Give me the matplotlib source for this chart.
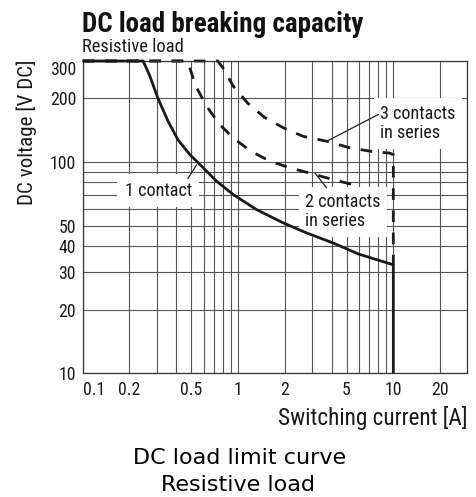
import matplotlib
matplotlib.use('Agg')
import matplotlib.pyplot as plt
from matplotlib import font_manager as fm
from matplotlib.ticker import FixedLocator, NullFormatter

# ---------------- data ----------------
cur_1 = [0.1, 0.245, 0.27, 0.305, 0.354, 0.411, 0.491, 0.598, 0.729, 0.933, 1.32, 1.96, 2.77, 4.11, 6.0, 10, 10]
volt_1 = [300, 300, 256, 200, 156, 127, 108, 93.7, 80.9, 70, 59.4, 51.4, 46.1, 41.3, 36.6, 32.6, 10]

cur_2 = [0.1, 0.464, 0.485, 0.535, 0.629, 0.757, 0.945, 1.225, 1.61, 2.16, 2.98, 4.11, 5.9]
volt_2 = [300, 300, 283.5, 228, 183, 151, 128.5, 111.7, 100.7, 93.7, 88, 82.4, 77]

cur_3 = [0.1, 0.74, 0.795, 0.933, 1.151, 1.475, 1.957, 2.63, 3.73, 5.26, 7.26, 9.52, 10, 10]
volt_3 = [300, 300, 280, 228, 190, 162.7, 145, 132, 125.2, 116.5, 112, 110, 108, 32.6]

x_major = [0.1, 0.2, 0.5, 1, 2, 5, 10, 20]
x_labels = ['0.1', '0.2', '0.5', '1', '2', '5', '10', '20']
x_minor = [0.3, 0.4, 0.6, 0.7, 0.8, 0.9, 3, 4, 6, 7, 8, 9]
y_major = [10, 20, 30, 40, 50, 100, 200, 300]
y_labels = ['10', '20', '30', '40', '50', '100', '200', '300']
y_minor = [60, 70, 80, 90]

title = 'DC load breaking capacity'
subtitle = 'Resistive load'
xlabel = 'Switching current [A]'
ylabel = 'DC voltage [V DC]'
caption1 = 'DC load limit curve'
caption2 = 'Resistive load'
lab1 = '1 contact'
lab2 = '2 contacts\nin series'
lab3 = '3 contacts\nin series'


def pick(fams, **kw):
    for f in fams:
        try:
            fm.findfont(fm.FontProperties(family=f, **kw), fallback_to_default=False)
            return f
        except Exception:
            pass
    return 'DejaVu Sans'


COND = pick(['Liberation Sans Narrow', 'Roboto Condensed', 'Liberation Sans'])
PLAIN = pick(['DejaVu Sans', 'Liberation Sans'])

W, H = 476, 497
fig = plt.figure(figsize=(W / 100, H / 100), dpi=100)
fig.patch.set_facecolor('white')

L, R, T, B = 82.7, 467.4, 61.0, 373.3
ax = fig.add_axes([L / W, 1 - B / H, (R - L) / W, (B - T) / H])
ax.set_xscale('log')
ax.set_yscale('log')
ax.set_xlim(0.1, 30)
ax.set_ylim(10, 300)

TXT = '#1a1a1a'
GRID = '#555555'

ax.xaxis.set_major_locator(FixedLocator(x_major))
ax.xaxis.set_minor_locator(FixedLocator(x_minor))
ax.yaxis.set_major_locator(FixedLocator(y_major))
ax.yaxis.set_minor_locator(FixedLocator(y_minor))
ax.set_xticklabels(x_labels)
ax.set_yticklabels(y_labels)
ax.xaxis.set_minor_formatter(NullFormatter())
ax.yaxis.set_minor_formatter(NullFormatter())
ax.tick_params(which='both', length=0)
ax.tick_params(axis='y', pad=4.8, labelsize=12, labelcolor=TXT)
ax.tick_params(axis='x', pad=5.5, labelsize=12, labelcolor=TXT)
for t in ax.get_xticklabels() + ax.get_yticklabels():
    t.set_family(COND)

ax.grid(True, which='both', color=GRID, lw=0.8)
ax.set_axisbelow(True)
for s in ax.spines.values():
    s.set_color('#333333')
    s.set_linewidth(0.9)

DASH = (0, (4.2, 3.8))
ax.plot(cur_2, volt_2, color='#1a1a1a', lw=2.0, ls=DASH, zorder=2, clip_on=False,
        dash_capstyle='butt')
ax.plot(cur_3, volt_3, color='#1a1a1a', lw=2.0, ls=DASH, zorder=2, clip_on=False,
        dash_capstyle='butt')
ax.plot(cur_1, volt_1, color='#1a1a1a', lw=2.0, zorder=4, clip_on=False,
        solid_capstyle='butt', solid_joinstyle='round')

t1 = ax.text(0.306, 73, lab1, ha='center', va='center', fontsize=12, family=COND,
             color=TXT, bbox=dict(boxstyle='square,pad=0.4', fc='white', ec='none'), zorder=3)
t2 = ax.text(2.70, 58.1, lab2, ha='left', va='center', fontsize=12, family=COND,
             color=TXT, bbox=dict(boxstyle='square,pad=0.35', fc='white', ec='none'),
             zorder=3, linespacing=1.1)
t3 = ax.text(8.21, 151.9, lab3, ha='left', va='center', fontsize=12, family=COND,
             color=TXT, bbox=dict(boxstyle='square,pad=0.35', fc='white', ec='none'),
             zorder=3, linespacing=1.1)

lead = dict(arrowstyle='-', color='#222222', lw=0.9, shrinkA=0, shrinkB=0)
ax.annotate('', xy=(0.542, 97), xytext=(0.476, 83.4), arrowprops=lead, zorder=5)
ax.annotate('', xy=(3.13, 88.7), xytext=(3.72, 75.4), arrowprops=lead, zorder=5)
ax.annotate('', xy=(3.73, 125.2), xytext=(8.01, 167.5), arrowprops=lead, zorder=5)

tt = fig.text(81.7 / W, 1 - 31.5 / H, title, ha='left', va='baseline', fontsize=19,
              family=COND, weight='bold', color='#111111')
ts = fig.text(81.7 / W, 1 - 51.7 / H, subtitle, ha='left', va='baseline', fontsize=11,
              family=COND, color=TXT)
ty = fig.text(26.7 / W, 1 - 132.5 / H, ylabel, ha='center', va='center', rotation=90,
              fontsize=12, family=COND, color=TXT)
tx = fig.text(467 / W, 1 - 425 / H, xlabel, ha='right', va='baseline', fontsize=12,
              family=COND, color=TXT)
c1 = fig.text(240 / W, 1 - 464 / H, caption1, ha='center', va='baseline', fontsize=15,
              family=PLAIN, color='black')
c2 = fig.text(238 / W, 1 - 491 / H, caption2, ha='center', va='baseline', fontsize=15,
              family=PLAIN, color='black')

fig.canvas.draw()
rend = fig.canvas.get_renderer()


def fit(t, target, maxfs=None):
    bb = t.get_window_extent(rend)
    w = max(bb.width, bb.height) if t.get_rotation() else bb.width
    fs = t.get_fontsize() * target / w
    if maxfs is not None:
        fs = min(fs, maxfs)
    t.set_fontsize(fs)


fit(tt, 282)
fit(ts, 101)
fit(ty, 145)
fit(tx, 189)
fit(c1, 215, maxfs=16)
c2.set_fontsize(c1.get_fontsize())
fit(t1, 67)
for t in (t2, t3):
    t.set_fontsize(t1.get_fontsize())

# tick label size from "300" width
lab300 = [t for t in ax.get_yticklabels() if t.get_text() == '300'][0]
w300 = lab300.get_window_extent(rend).width
fs = 12 * 26 / w300
ax.tick_params(axis='both', labelsize=fs)
for t in ax.get_xticklabels():
    if t.get_text() == '0.1':
        t.set_ha('left')
for t in ax.get_yticklabels():
    if t.get_text() == '300':
        t.set_va('top')

fig.savefig('out.png', dpi=100, facecolor='white')
